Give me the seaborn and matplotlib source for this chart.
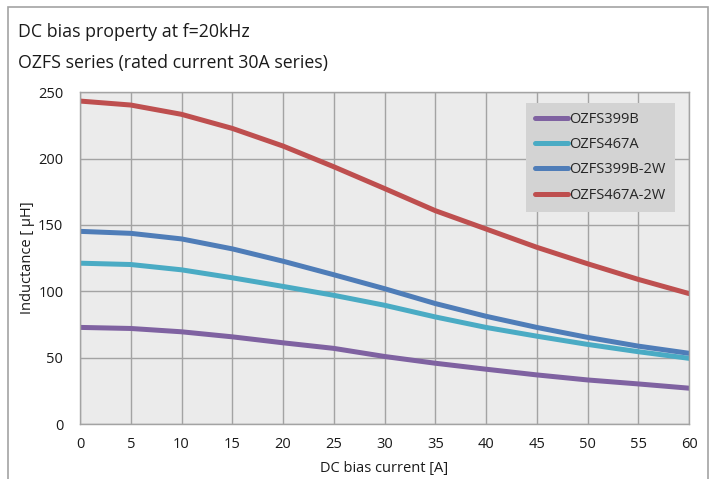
import numpy as np
import pandas as pd
import matplotlib
matplotlib.use("Agg")
import matplotlib.pyplot as plt
from matplotlib.patches import Rectangle
import seaborn as sns

# values
current = [0, 5, 10, 15, 20, 25, 30, 35, 40, 45, 50, 55, 60]
ozfs399b = [72.8, 72.0, 69.5, 65.7, 61.2, 57.0, 50.9, 45.8, 41.3, 37.0, 33.2, 30.2, 27.0]
ozfs467a = [121.2, 120.2, 116.2, 110.2, 103.7, 97.0, 89.5, 80.7, 72.8, 66.2, 60.0, 54.5, 49.5]
ozfs399b_2w = [145.2, 143.7, 139.5, 132.0, 122.7, 112.5, 102.0, 90.8, 81.2, 72.8, 65.3, 58.7, 53.3]
ozfs467a_2w = [243.4, 240.4, 233.4, 222.8, 209.5, 193.9, 177.5, 160.8, 147.0, 133.2, 120.8, 109.0, 98.3]

series_names = ["OZFS399B", "OZFS467A", "OZFS399B-2W", "OZFS467A-2W"]
colors = ["#7f62a1", "#4aabc4", "#4f7db8", "#be4f4f"]
x_ticks = list(range(0, 61, 5))
y_ticks = [0, 50, 100, 150, 200, 250]

df = pd.DataFrame({
    "current": current * 4,
    "L": ozfs399b + ozfs467a + ozfs399b_2w + ozfs467a_2w,
    "part": np.repeat(series_names, len(current)),
})

sns.set_style("whitegrid", {"axes.facecolor": "#ebebeb", "grid.color": "#a3a3a3",
                            "axes.edgecolor": "#a3a3a3"})
plt.rcParams["font.family"] = ["Open Sans", "DejaVu Sans"]

fig = plt.figure(figsize=(7.16, 4.79), dpi=100)
ax = fig.add_axes([80 / 716, 1 - 424 / 479, 609 / 716, 331.7 / 479])

sns.lineplot(data=df, x="current", y="L", hue="part", hue_order=series_names,
             palette=colors, linewidth=3.6, ax=ax, legend=True)
for line in ax.get_lines():
    line.set_solid_joinstyle("round")

ax.set_xlim(0, 60)
ax.set_ylim(0, 250)
ax.set_xticks(x_ticks)
ax.set_yticks(y_ticks)
ax.grid(True, color="#a3a3a3", linewidth=1)
ax.tick_params(length=0, labelsize=10.5, colors="#1a1a1a")
ax.tick_params(axis="y", pad=12)
ax.tick_params(axis="x", pad=9)
for s in ax.spines.values():
    s.set_color("#a3a3a3")
    s.set_linewidth(1)
ax.set_xlabel("DC bias current [A]", fontsize=10.5, color="#1a1a1a", labelpad=7)
ax.set_ylabel("Inductance [ \u03bcH]", fontsize=10.5, color="#1a1a1a", labelpad=2)

leg = ax.legend(loc="upper left", bbox_to_anchor=(0.732, 0.969), borderaxespad=0,
                frameon=True, fancybox=False, framealpha=1, facecolor="#d3d3d3",
                edgecolor="none", fontsize=10.5, handlelength=2.25, handletextpad=0.05,
                labelspacing=0.7, borderpad=0.65)
for line in leg.get_lines():
    line.set_linewidth(3.6)
    line.set_solid_capstyle("round")
# reference legend box has extra room on the right
leg.get_frame().set_width(leg.get_frame().get_width() + 10)

fig.text(18 / 716, 1 - 37 / 479, "DC bias property at f=20kHz", fontsize=12.8,
         va="baseline", color="#1a1a1a")
fig.text(18 / 716, 1 - 68 / 479, "OZFS series (rated current 30A series)", fontsize=12.8,
         va="baseline", color="#1a1a1a")

fig.patches.append(Rectangle((8 / 716, -0.05), 700 / 716, 1.05 - 7 / 479,
                             transform=fig.transFigure, fill=False,
                             edgecolor="#a3a3a3", linewidth=1.2))

fig.savefig("out.png", dpi=100)
